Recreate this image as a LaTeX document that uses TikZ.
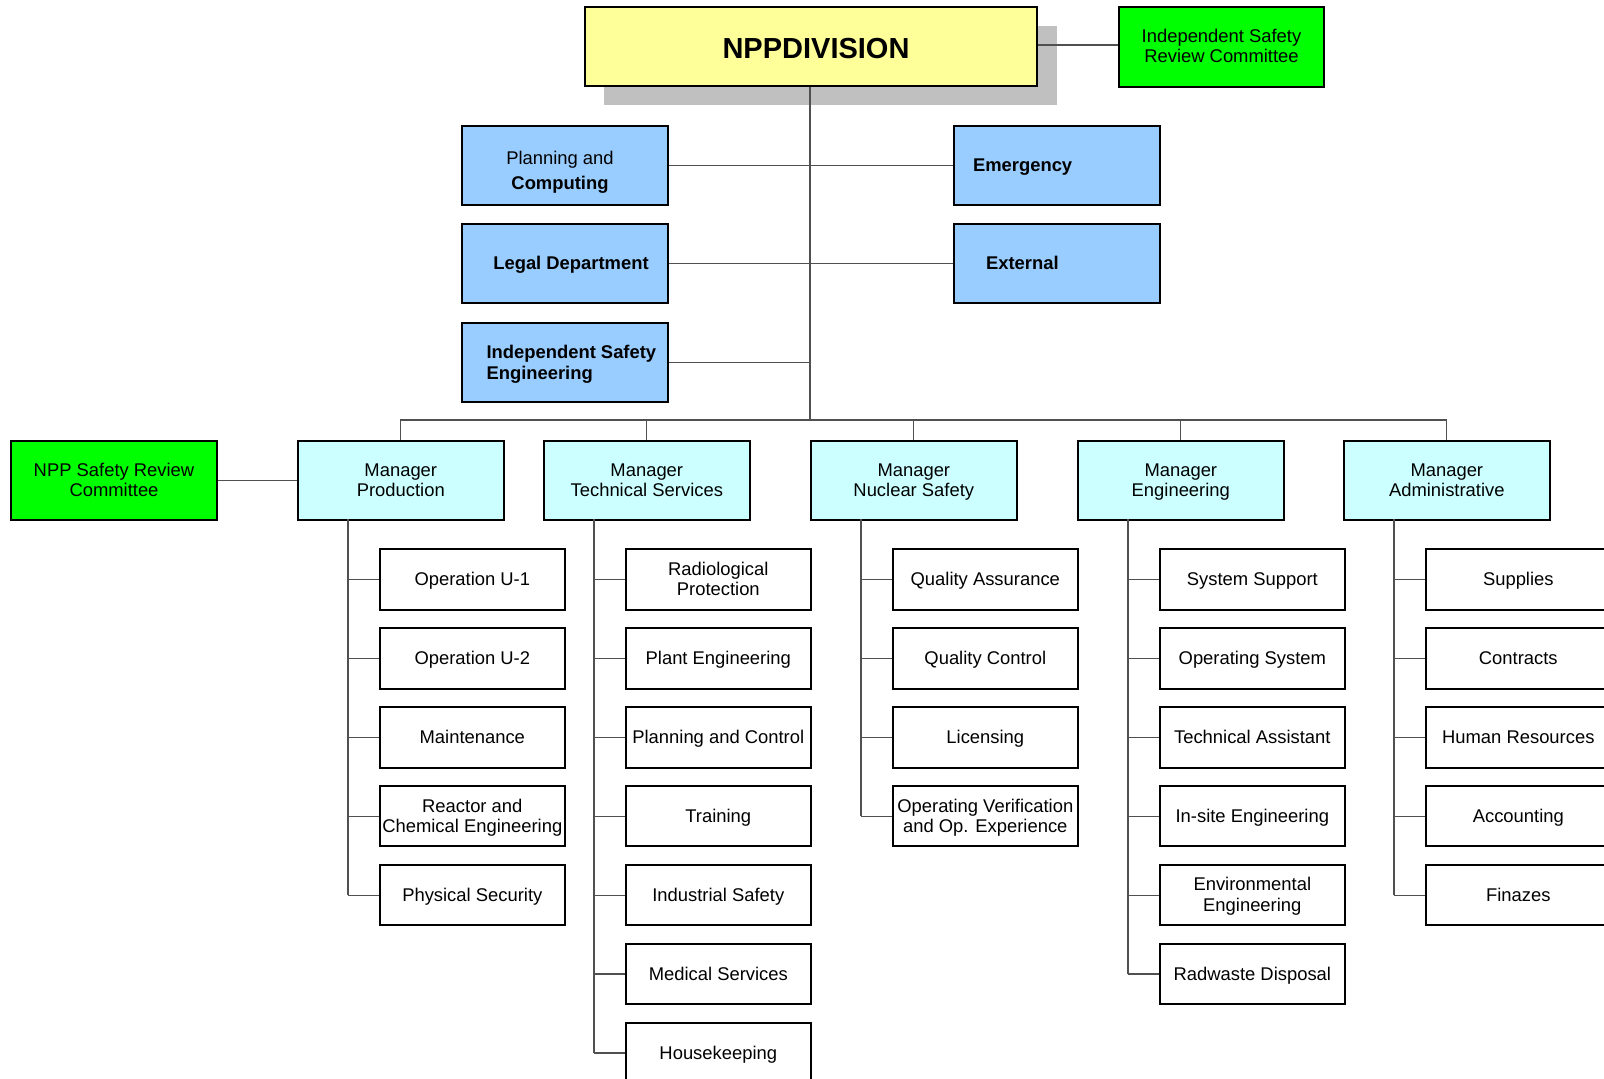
\documentclass[tikz,border=0pt]{standalone}
\usepackage{fontspec}
\setmainfont{Liberation Sans}
\definecolor{yel}{HTML}{FFFF99}
\definecolor{bluef}{HTML}{99CCFF}
\definecolor{cyanf}{HTML}{CCFFFF}
\definecolor{greenf}{HTML}{00FF00}
\definecolor{shadowc}{HTML}{C0C0C0}
\definecolor{linec}{HTML}{505050}
\newcommand\lblx[3]{\raisebox{#1}[\height][\depth]{\begin{tabular}{@{}#2@{}}#3\end{tabular}}}
\newcommand\lbl[2][c]{\lblx{-1.0pt}{#1}{#2}}
\tikzset{
  box/.style={draw=black, line width=1pt, inner sep=0pt, anchor=north west, align=center,
    font=\fontsize{9.2}{10.3}\selectfont},
  childbox/.style={box, fill=white, minimum width=92.3pt, minimum height=30.2pt},
  mgrbox/.style={box, fill=cyanf, minimum width=102.8pt, minimum height=39.5pt},
  bluebox/.style={box, fill=bluef, minimum width=103pt, minimum height=39.5pt,
    font=\fontsize{9.2}{10.3}\selectfont\bfseries},
  greenbox/.style={box, fill=greenf, minimum width=103pt, minimum height=39.5pt},
  link/.style={draw=linec, line width=0.6pt},
}
\begin{document}
\begin{tikzpicture}[x=0.5pt, y=-0.5pt]
\useasboundingbox (0,0) rectangle (1604,1079);
\clip (0,0) rectangle (1604,1079);
% top
\fill[shadowc] (604,26) rectangle (1057,105);
\node[box, fill=yel, minimum width=226pt, minimum height=39.5pt,
  font=\fontsize{14.5}{16}\selectfont\bfseries] (npp) at (584,6)
  {\hspace*{5pt}\rule{0pt}{12.4pt}NPPDIVISION};
\node[greenbox, minimum width=102.5pt, minimum height=40pt] (isrc) at (1118,6)
  {\lblx{-0.6pt}{c}{Independent Safety\\Review Committee}};
\draw[link] (npp.east |- 0,45) -- (isrc.west |- 0,45);
% staff boxes
\node[bluebox, font=\fontsize{9.2}{12.25}\selectfont] (plan) at (461,125)
  {\hspace*{-5pt}\lblx{-3.35pt}{c}{\mdseries Planning and\\\bfseries Computing}};
\node[bluebox] (emer) at (953,125) {\makebox[103pt][l]{\hspace*{9.5pt}\lbl[l]{Emergency}}};
\node[bluebox] (legal) at (461,223) {\hspace*{6pt}\lbl{Legal Department}};
\node[bluebox] (ext) at (953,223) {\makebox[103pt][l]{\hspace*{16pt}\lbl[l]{External}}};
\node[bluebox, font=\fontsize{9.2}{10.75}\selectfont\bfseries] (ise) at (461,322)
  {\makebox[103pt][l]{\hspace*{12.25pt}\lbl[l]{Independent Safety\\Engineering}}};
% trunk
\coordinate (bus) at (810,420);
\draw[link] (npp.south -| bus) -- (bus);
\draw[link] (plan.east) -- (emer.west);
\draw[link] (legal.east) -- (ext.west);
\draw[link] (ise.east) -- (ise.east -| bus);
% managers
\node[mgrbox] (m1) at (297,440) {\lbl{Manager\\Production}};
\node[mgrbox] (m2) at (543,440) {\lbl{Manager\\Technical Services}};
\node[mgrbox] (m3) at (810,440) {\lbl{Manager\\Nuclear Safety}};
\node[mgrbox] (m4) at (1077,440) {\lbl{Manager\\Engineering}};
\node[mgrbox] (m5) at (1343,440) {\lbl{Manager\\Administrative}};
\node[greenbox, minimum width=103pt] (nsrc) at (10,440) {\lbl{NPP Safety Review\\Committee}};
\draw[link] (nsrc.east) -- (m1.west);
\draw[link] (m1.north) -- (m1.north |- bus) -- (m5.north |- bus) -- (m5.north);
\foreach \m in {m2,m3,m4} \draw[link] (\m.north |- bus) -- (\m.north);
% children
\foreach \m/\mx/\list in {
  m1/297/{Operation U-1,Operation U-2,Maintenance,Reactor and\\Chemical Engineering,Physical Security},
  m2/543/{Radiological\\Protection,Plant Engineering,Planning and Control,Training,Industrial Safety,Medical Services,Housekeeping},
  m3/810/{Quality Assurance,Quality Control,Licensing,Operating Verification\\and Op. Experience},
  m4/1077/{System Support,Operating System,Technical Assistant,In-site Engineering,Environmental\\Engineering,Radwaste Disposal},
  m5/1343/{Supplies,Contracts,Human Resources,Accounting,Finazes}}{
  \coordinate (\m v) at (\mx+51,519);
  \foreach \t [count=\k from 0] in \list {
    \node[childbox] (\m c\k) at (\mx+82,548.3+78.9*\k) {\lbl{\t}};
    \draw[link] (\m c\k.west) -- (\m c\k.west -| \m v);
    \xdef\lastk{\k}
  }
  \draw[link] (\m v) -- (\m v |- \m c\lastk.west);
}
\end{tikzpicture}
\end{document}
